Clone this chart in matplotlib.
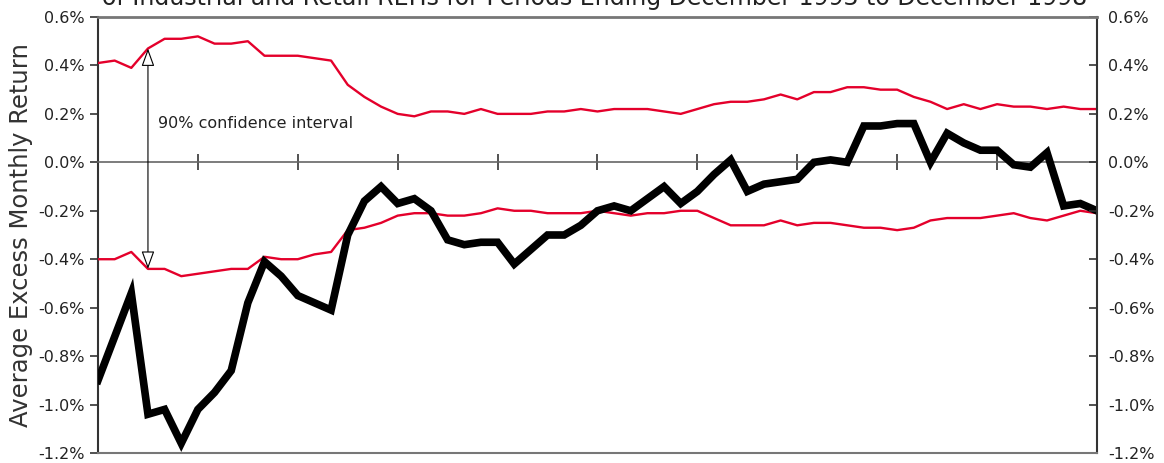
import numpy as np
import matplotlib.pyplot as plt

# 61 monthly observations, Dec 1993 .. Dec 1998
months = np.arange(61)

upper = [0.41, 0.42, 0.39, 0.47, 0.51, 0.51, 0.52, 0.49, 0.49, 0.50,
         0.44, 0.44, 0.44, 0.43, 0.42, 0.32, 0.27, 0.23, 0.20, 0.19,
         0.21, 0.21, 0.20, 0.22, 0.20, 0.20, 0.20, 0.21, 0.21, 0.22,
         0.21, 0.22, 0.22, 0.22, 0.21, 0.20, 0.22, 0.24, 0.25, 0.25,
         0.26, 0.28, 0.26, 0.29, 0.29, 0.31, 0.31, 0.30, 0.30, 0.27,
         0.25, 0.22, 0.24, 0.22, 0.24, 0.23, 0.23, 0.22, 0.23, 0.22,
         0.22]

lower = [-0.40, -0.40, -0.37, -0.44, -0.44, -0.47, -0.46, -0.45, -0.44, -0.44,
         -0.39, -0.40, -0.40, -0.38, -0.37, -0.28, -0.27, -0.25, -0.22, -0.21,
         -0.21, -0.22, -0.22, -0.21, -0.19, -0.20, -0.20, -0.21, -0.21, -0.21,
         -0.20, -0.21, -0.22, -0.21, -0.21, -0.20, -0.20, -0.23, -0.26, -0.26,
         -0.26, -0.24, -0.26, -0.25, -0.25, -0.26, -0.27, -0.27, -0.28, -0.27,
         -0.24, -0.23, -0.23, -0.23, -0.22, -0.21, -0.23, -0.24, -0.22, -0.20,
         -0.21]

excess = [-0.90, -0.72, -0.54, -1.04, -1.02, -1.16, -1.02, -0.95, -0.86, -0.58,
          -0.41, -0.47, -0.55, -0.58, -0.61, -0.30, -0.16, -0.10, -0.17, -0.15,
          -0.20, -0.32, -0.34, -0.33, -0.33, -0.42, -0.36, -0.30, -0.30, -0.26,
          -0.20, -0.18, -0.20, -0.15, -0.10, -0.17, -0.12, -0.05, 0.01, -0.12,
          -0.09, -0.08, -0.07, 0.00, 0.01, 0.00, 0.15, 0.15, 0.16, 0.16,
          0.00, 0.12, 0.08, 0.05, 0.05, -0.01, -0.02, 0.04, -0.18, -0.17,
          -0.20]

yticks = [0.6, 0.4, 0.2, 0.0, -0.2, -0.4, -0.6, -0.8, -1.0, -1.2]
arrow_month = 3

red = '#e4002b'
txt = '#222222'

fig = plt.figure(figsize=(11.64, 4.63), dpi=100)
ax = fig.add_axes([0.0842, 0.0216, 0.8582, 0.9417])
ax2 = ax.twinx()

ax.plot(months, upper, color=red, lw=1.7, zorder=3)
ax.plot(months, lower, color=red, lw=1.7, zorder=3)
ax.plot(months, excess, color='black', lw=5.5, solid_joinstyle='miter', zorder=4)

ax.set_xlim(0, 60)
ax.set_ylim(-1.2, 0.6)
ax2.set_ylim(-1.2, 0.6)

# x axis drawn through zero, ticks every six months, no labels
ax.spines['bottom'].set_position(('data', 0))
ax.spines['bottom'].set_color('#666666')
ax.spines['bottom'].set_linewidth(1.2)
ax.set_xticks(np.arange(0, 61, 6))
ax.tick_params(axis='x', direction='inout', length=12, width=1.3,
               color='#444444', labelbottom=False)

ax.set_yticks(yticks)
ax.set_yticklabels([f'{v:.1f}%' for v in yticks])
ax.tick_params(axis='y', direction='out', length=6, width=1.2,
               labelsize=11.5, labelcolor=txt, color='#333333')
ax2.set_yticks(yticks)
ax2.set_yticklabels([f'{v:.1f}%' for v in yticks])
ax2.tick_params(axis='y', direction='in', length=6, width=1.2,
                labelsize=11.5, labelcolor=txt, color='#333333', pad=8)

ax.spines['top'].set_visible(False)
ax.spines['right'].set_visible(False)
ax.spines['left'].set_color('#333333')
ax.spines['left'].set_linewidth(1.5)
ax2.spines['left'].set_visible(False)
ax2.spines['top'].set_color('#777777')
ax2.spines['top'].set_linewidth(2)
ax2.spines['right'].set_color('#333333')
ax2.spines['right'].set_linewidth(1.5)
ax2.spines['bottom'].set_color('#777777')
ax2.spines['bottom'].set_linewidth(1.5)

ax.set_ylabel('Average Excess Monthly Return', fontsize=17.5, color='#333333', labelpad=4)

ax.annotate('', xy=(arrow_month, upper[arrow_month]),
            xytext=(arrow_month, lower[arrow_month]),
            arrowprops=dict(arrowstyle='<|-|>,head_length=0.55,head_width=0.2',
                            fc='white', ec='black', lw=0.8,
                            mutation_scale=20, shrinkA=0, shrinkB=0), zorder=5)
ax.text(arrow_month + 0.6, 0.16, '90% confidence interval', fontsize=11.5,
        color=txt, va='center', ha='left')

fig.text(0.511, 1 - 4.5 / 463,
         'of Industrial and Retail REITs for Periods Ending December 1993 to December 1998',
         ha='center', va='baseline', fontsize=17, color=txt)

fig.savefig('out.png', dpi=100)
